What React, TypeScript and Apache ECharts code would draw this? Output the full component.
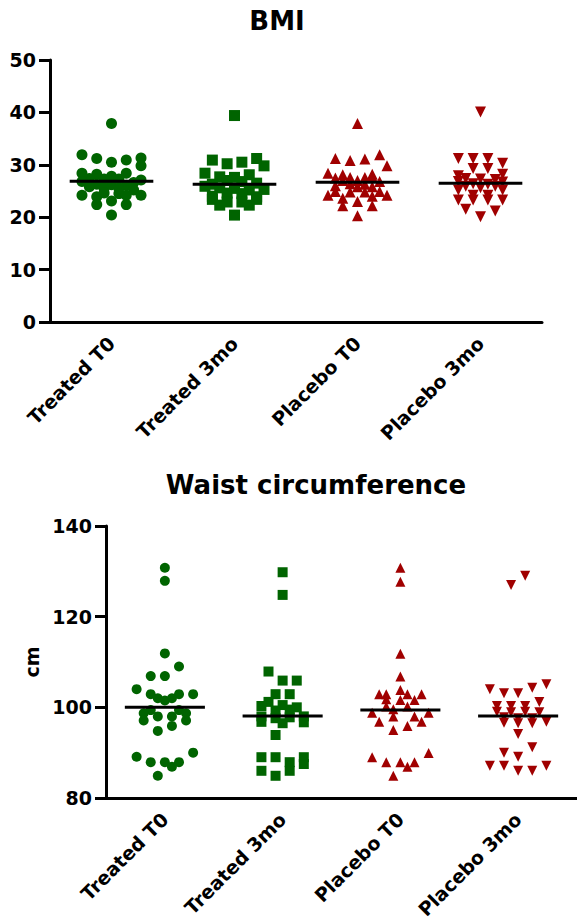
import React, { useEffect, useRef } from "react";
import * as echarts from "echarts";

const categories = ["Treated T0", "Treated 3mo", "Placebo T0", "Placebo 3mo"];

// [value, jitter column]
const bmiTreatedT0 = [
  [37.9, 0], [31.9, -2], [31.2, -1], [30.5, 0], [30.9, 1], [31.3, 2], [29.8, 2], [28.4, -2], [28.2, -1], [28.4, 1],
  [27.8, 0], [27.4, -1.5], [27.3, -0.5], [27.3, 0.5], [27.1, 2], [26.8, -2], [26.6, 1.5], [26.3, -1], [26.2, 0], [26.1, 1],
  [25.8, -1.5], [25.5, -0.5], [25.5, 0.5], [25.2, 1.5], [24.2, -2], [24.2, 2], [23.9, -1], [24.6, -0.5], [24.5, 0.5], [24.2, 1],
  [23.1, 0], [22.4, -1], [22.4, 1], [20.4, 0],
];
const bmiTreated3mo = [
  [39.4, 0], [30.9, -1.5], [30.2, -0.5], [30.5, 0.5], [31.2, 1.5], [29.8, 2], [28.4, -2], [28.1, 1], [27.7, -1], [27.6, 0],
  [27.0, -0.5], [26.8, 0.5], [26.5, 1.5], [26.3, -1.5], [25.9, -2], [25.3, 2], [25.6, -1], [25.5, 0], [25.2, 1], [24.6, -0.5],
  [24.5, 0.5], [24.0, -1.5], [23.9, 1.5], [23.4, -1.5], [22.9, -0.5], [22.9, 0.5], [23.4, 1.5], [22.3, -1], [22.3, 1], [20.4, 0],
];
const bmiPlaceboT0 = [
  [37.9, 0], [31.9, 1.5], [31.2, -1.5], [30.8, -0.5], [31.1, 0.5], [29.8, 2], [28.4, -2], [28.1, -1], [28.2, 1],
  [27.5, -1.5], [27.6, -0.5], [27.6, 0.5], [27.7, 1], [27.0, -1], [27.0, 0], [26.8, 1.5], [26.4, -0.5], [26.3, 0.5], [26.0, -1.5],
  [25.8, 0], [25.8, 1], [24.2, -2], [24.2, 2], [24.9, -1.5], [24.9, 1.5], [24.8, -0.5], [24.8, 0.5], [23.6, -1], [24.0, 1],
  [23.0, 0], [22.2, -1], [22.2, 1], [20.3, 0],
];
const bmiPlacebo3mo = [
  [40.1, 0], [31.2, -1.5], [31.2, -0.5], [31.2, 0.5], [30.3, 1.5], [29.3, -0.5], [29.3, 0.5], [27.9, -1.5], [28.2, 1.5],
  [27.4, -1], [27.3, 0], [27.2, 1], [26.8, -1.5], [26.7, 1.5], [26.4, -0.5], [26.3, 0.5], [25.9, -1], [25.9, 1], [25.6, 0],
  [25.2, -1.5], [25.2, 1.5], [24.2, -0.5], [24.2, 0.5], [23.3, -1.5], [23.3, -0.5], [23.3, 0.5], [23.3, 1.5],
  [21.5, -1], [21.2, 1], [20.1, 0],
];
const bmiMeans = [26.85, 26.3, 26.65, 26.5];

const waistTreatedT0 = [
  [130.8, 0], [127.9, 0], [111.9, 0], [109.0, 1], [106.9, -1], [106.9, 0], [104.0, -2], [102.9, -1], [102.9, 1], [102.9, 2],
  [102.0, -0.5], [102.0, 0.5], [101.5, 0], [99.4, -1], [99.4, 1], [98.7, -1.5], [98.7, 1.5], [98.0, -0.5], [98.0, 0.5],
  [97.1, -1.5], [97.1, 1.5], [95.9, 0.5], [94.8, -0.5], [89.1, -2], [90.0, 2], [87.9, -1], [87.9, 0], [87.9, 1],
  [86.9, 0.5], [84.9, -0.5],
];
const waistTreated3mo = [
  [129.8, 0], [124.8, 0], [107.9, -1], [105.9, 0], [105.9, 1], [102.9, -0.5], [102.9, 0.5], [101.2, -1], [100.3, -1.5],
  [100.5, 0], [100.0, 1], [99.3, -0.5], [99.5, 0.5], [98.0, -1.5], [98.0, 1.5], [97.6, -0.5], [97.8, 0.5], [96.8, -1.5],
  [96.7, 1.5], [96.5, 0], [93.9, -0.5], [89.0, -1.5], [89.0, -0.5], [89.0, 1.5], [87.9, 0.5], [87.5, 1.5], [86.0, -1.5],
  [86.0, 0.5], [84.9, -0.5],
];
const waistPlaceboT0 = [
  [130.8, 0], [127.7, 0], [111.8, 0], [106.8, 0], [103.8, 0], [102.9, -1.5], [102.9, -1], [102.9, 0.5], [102.9, 1.5],
  [101.8, -1], [101.6, 0], [101.6, 1], [100.2, -1], [100.2, 0.5], [99.6, -0.5], [98.8, -2], [98.8, 2], [96.8, -1.5],
  [98.0, -0.5], [98.0, 1], [96.8, 1.5], [95.0, -0.5], [95.9, 0.5], [89.0, -2], [89.9, 2], [87.9, -1], [87.9, 0], [87.9, 1],
  [86.9, 0.5], [84.9, -0.5],
];
const waistPlacebo3mo = [
  [129.0, 0.5], [127.0, -0.5], [104.0, -2], [105.1, 2], [104.3, 1], [103.1, -1], [103.1, 0], [101.2, 1.5], [100.3, -1.5],
  [100.3, -0.5], [100.3, 0.5], [99.0, -1.5], [98.9, -0.5], [99.0, 0.5], [98.9, 1.5], [97.8, -1], [97.6, 0], [97.6, 1],
  [96.6, -1], [96.5, 0], [96.5, 1], [96.8, 2], [94.1, 0], [90.0, -1], [91.2, 1], [89.1, 0], [87.1, -2], [87.1, -1],
  [87.1, 2], [86.0, 0], [86.0, 1],
];
const waistMeans = [100.0, 98.1, 99.4, 98.1];

const GREEN = "#006400";
const RED = "#a00000";
const FONT = "DejaVu Sans";
const COL_STEP = 0.12;
const HALF_LINE = 0.34;

const groupStyles = [
  { color: GREEN, symbol: "circle", rotate: 0 },
  { color: GREEN, symbol: "rect", rotate: 0 },
  { color: RED, symbol: "triangle", rotate: 0 },
  { color: RED, symbol: "triangle", rotate: 180 },
];

function scatterSeries(groups: number[][][], grid: number, size: number) {
  return groups.map((g, i) => ({
    type: "scatter",
    xAxisIndex: grid * 2 + 1,
    yAxisIndex: grid,
    symbol: groupStyles[i].symbol,
    symbolRotate: groupStyles[i].rotate,
    symbolSize: size,
    itemStyle: { color: groupStyles[i].color, opacity: 1 },
    data: g.map(([v, c]) => [i + c * COL_STEP, v]),
    z: 2,
  }));
}

function meanSeries(means: number[], grid: number) {
  return {
    type: "custom",
    xAxisIndex: grid * 2 + 1,
    yAxisIndex: grid,
    z: 5,
    data: means.map((m, i) => [i, m]),
    renderItem: (_params: any, api: any) => {
      const i = api.value(0);
      const m = api.value(1);
      const a = api.coord([i - HALF_LINE, m]);
      const b = api.coord([i + HALF_LINE, m]);
      return {
        type: "line",
        shape: { x1: a[0], y1: a[1], x2: b[0], y2: b[1] },
        style: { stroke: "#000", lineWidth: 3 },
      };
    },
  };
}

const axisLabelStyle = { fontFamily: FONT, fontWeight: "bold", fontSize: 19, color: "#000" };

function catAxis(grid: number) {
  return {
    type: "category",
    gridIndex: grid,
    data: categories,
    boundaryGap: true,
    axisLine: { onZero: false, lineStyle: { color: "#000", width: 3 } },
    axisTick: { alignWithLabel: true, length: 8, lineStyle: { color: "#000", width: 3 } },
    axisLabel: { ...axisLabelStyle, rotate: 45, margin: 18, interval: 0 },
  };
}
function valXAxis(grid: number) {
  return { type: "value", gridIndex: grid, min: -0.5, max: 3.5, show: false };
}

function yAxis(grid: number, min: number, max: number, interval: number, extra: any) {
  return {
    type: "value",
    gridIndex: grid,
    min,
    max,
    interval,
    splitLine: { show: false },
    axisLine: { show: true, onZero: false, lineStyle: { color: "#000", width: 3 } },
    axisTick: { show: true, length: 11, lineStyle: { color: "#000", width: 3 } },
    axisLabel: { ...axisLabelStyle, margin: 14 },
    ...extra,
  };
}

export default function App() {
  const ref = useRef<HTMLDivElement>(null);
  useEffect(() => {
    if (!ref.current) return;
    const chart = echarts.init(ref.current, null, { renderer: "svg" });
    chart.setOption({
      animation: false,
      backgroundColor: "#fff",
      title: [
        {
          text: "BMI",
          left: 272,
          top: 3,
          textAlign: "center",
          textStyle: { fontFamily: FONT, fontWeight: "bold", fontSize: 26, color: "#000" },
        },
        {
          text: "Waist circumference",
          left: 311,
          top: 467,
          textAlign: "center",
          textStyle: { fontFamily: FONT, fontWeight: "bold", fontSize: 26, color: "#000" },
        },
      ],
      grid: [
        { left: 50, top: 60, width: 492, height: 262 },
        { left: 106, top: 526, width: 478, height: 272 },
      ],
      xAxis: [catAxis(0), valXAxis(0), catAxis(1), valXAxis(1)],
      yAxis: [
        yAxis(0, 0, 50, 10, {}),
        yAxis(1, 80, 140, 20, {
          name: "cm",
          nameLocation: "middle",
          nameRotate: 90,
          nameGap: 64,
          nameTextStyle: { ...axisLabelStyle },
        }),
      ],
      series: [
        ...scatterSeries([bmiTreatedT0, bmiTreated3mo, bmiPlaceboT0, bmiPlacebo3mo], 0, 11),
        meanSeries(bmiMeans, 0),
        ...scatterSeries([waistTreatedT0, waistTreated3mo, waistPlaceboT0, waistPlacebo3mo], 1, 10),
        meanSeries(waistMeans, 1),
      ],
    });
    return () => chart.dispose();
  }, []);
  return (
    <div
      ref={ref}
      style={{ position: "absolute", left: 0, top: 0, width: 577, height: 923, background: "#fff" }}
    />
  );
}
